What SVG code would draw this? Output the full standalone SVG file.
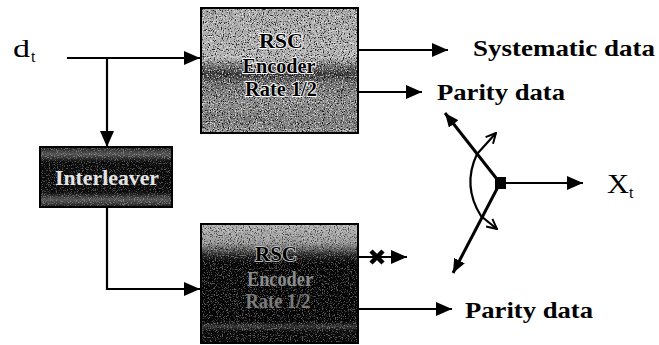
<svg xmlns="http://www.w3.org/2000/svg" width="659" height="345" viewBox="0 0 659 345">
  <style>
    .wire { fill: none; stroke: #000; stroke-width: 2.2; }
    .sw { fill: none; stroke: #000; stroke-width: 3; }
    .arc { fill: none; stroke: #000; stroke-width: 2.2; }
    .frame { fill: none; stroke: #000; stroke-width: 2; }
    .lbl { font-family: "Liberation Serif", "Times New Roman", serif; font-weight: bold; fill: #000; }
    .sym { font-family: "Liberation Serif", "Times New Roman", serif; fill: #000; }
    .boxtxt { font-family: "Liberation Serif", "Times New Roman", serif; font-weight: bold; font-size: 21px; text-anchor: middle; }
  </style>
  <defs>
    <marker id="head" viewBox="0 0 16 14" refX="16" refY="7" markerWidth="16" markerHeight="14" markerUnits="userSpaceOnUse" orient="auto">
      <path d="M0,0 L16,7 L0,14 z" fill="#000"/>
    </marker>
    <marker id="headS" viewBox="0 0 14 12" refX="14" refY="6" markerWidth="14" markerHeight="12" markerUnits="userSpaceOnUse" orient="auto-start-reverse">
      <path d="M0,0 L14,6 L0,12 z" fill="#000"/>
    </marker>
    <marker id="vee" viewBox="0 0 12 12" refX="11" refY="6" markerWidth="12" markerHeight="12" markerUnits="userSpaceOnUse" orient="auto-start-reverse">
      <path d="M1,1 L11,6 L1,11" fill="none" stroke="#000" stroke-width="2"/>
    </marker>
    <linearGradient id="gTop" x1="0" y1="0" x2="0" y2="1">
      <stop offset="0" stop-color="#a8a8a8"/>
      <stop offset="0.4" stop-color="#b4b4b4"/>
      <stop offset="0.47" stop-color="#6a6a6a"/>
      <stop offset="0.53" stop-color="#3a3a3a"/>
      <stop offset="0.6" stop-color="#707070"/>
      <stop offset="0.75" stop-color="#8c8c8c"/>
      <stop offset="0.93" stop-color="#7a7a7a"/>
      <stop offset="1" stop-color="#9a9a9a"/>
    </linearGradient>
    <linearGradient id="gBot" x1="0" y1="0" x2="0" y2="1">
      <stop offset="0" stop-color="#b8b8b8"/>
      <stop offset="0.16" stop-color="#9a9a9a"/>
      <stop offset="0.27" stop-color="#222"/>
      <stop offset="0.33" stop-color="#050505"/>
      <stop offset="0.82" stop-color="#050505"/>
      <stop offset="0.86" stop-color="#3a3a3a"/>
      <stop offset="0.9" stop-color="#0a0a0a"/>
      <stop offset="1" stop-color="#0a0a0a"/>
    </linearGradient>
    <linearGradient id="gInt" x1="0" y1="0" x2="0" y2="1">
      <stop offset="0" stop-color="#1a1a1a"/>
      <stop offset="0.12" stop-color="#555"/>
      <stop offset="0.25" stop-color="#0a0a0a"/>
      <stop offset="0.75" stop-color="#0a0a0a"/>
      <stop offset="0.88" stop-color="#555"/>
      <stop offset="1" stop-color="#1a1a1a"/>
    </linearGradient>
    <!-- halftone speckle: dark and light dots from thresholded noise -->
    <filter id="speckDark" x="0" y="0" width="100%" height="100%">
      <feTurbulence type="fractalNoise" baseFrequency="0.85" numOctaves="2" seed="3"/>
      <feColorMatrix type="matrix" values="0 0 0 0 0  0 0 0 0 0  0 0 0 0 0  6 0 0 0 -3.2"/>
    </filter>
    <filter id="speckLight" x="0" y="0" width="100%" height="100%">
      <feTurbulence type="fractalNoise" baseFrequency="0.85" numOctaves="2" seed="11"/>
      <feColorMatrix type="matrix" values="0 0 0 0 1  0 0 0 0 1  0 0 0 0 1  6 0 0 0 -3.2"/>
    </filter>
  </defs>

  <!-- connectors -->
  <g id="connectors">
    <!-- d_t feed to the first encoder and branch to the interleaver -->
    <line class="wire" x1="67" y1="58" x2="200" y2="58" marker-end="url(#head)"/>
    <line class="wire" x1="107" y1="58" x2="107" y2="147" marker-end="url(#head)"/>
    <!-- interleaver to the second encoder -->
    <polyline class="wire" points="107,207 107,289 200,289" marker-end="url(#head)"/>
    <!-- encoder outputs -->
    <line class="wire" x1="358" y1="50" x2="448" y2="50" marker-end="url(#head)"/>
    <line class="wire" x1="358" y1="92" x2="422" y2="92" marker-end="url(#head)"/>
    <line class="wire" x1="358" y1="257" x2="407" y2="257" marker-end="url(#head)"/>
    <line class="wire" x1="358" y1="309" x2="452" y2="309" marker-end="url(#head)"/>
    <!-- punctured output mark -->
    <path d="M371,251 L383,263 M383,251 L371,263" stroke="#000" stroke-width="4.5" fill="none"/>
  </g>

  <!-- puncturing switch -->
  <g id="switch">
    <line class="sw" x1="500" y1="183" x2="445" y2="113" marker-end="url(#headS)"/>
    <line class="sw" x1="500" y1="183" x2="453" y2="273" marker-end="url(#headS)"/>
    <line class="wire" x1="505" y1="183" x2="583" y2="183" marker-end="url(#head)"/>
    <path class="arc" d="M496,133 L477,154 Q462,186 481,216 L497,229" marker-start="url(#vee)" marker-end="url(#vee)"/>
    <rect x="495" y="177" width="11" height="12" fill="#000"/>
  </g>

  <!-- input symbol -->
  <g id="input">
    <text class="sym" x="13" y="57" font-size="25" textLength="17" lengthAdjust="spacingAndGlyphs">d</text>
    <text class="sym" x="31" y="62" font-size="16">t</text>
  </g>

  <!-- first RSC encoder -->
  <g id="encoder1">
    <rect x="201" y="8" width="157" height="125" fill="url(#gTop)"/>
    <rect x="201" y="8" width="157" height="125" filter="url(#speckDark)" opacity="0.8"/>
    <rect x="201" y="8" width="157" height="125" filter="url(#speckLight)" opacity="0.65"/>
    <rect class="frame" x="201" y="8" width="157" height="125"/>
    <g class="boxtxt" fill="#000" stroke="#fff" stroke-width="1.8" paint-order="stroke" stroke-linejoin="round">
      <text x="281" y="48" font-size="22px">RSC</text>
      <text x="279" y="73" textLength="73" lengthAdjust="spacingAndGlyphs">Encoder</text>
      <text x="281" y="96" textLength="72" lengthAdjust="spacingAndGlyphs">Rate 1/2</text>
    </g>
  </g>

  <!-- interleaver -->
  <g id="interleaver">
    <rect x="40" y="147" width="132" height="60" fill="url(#gInt)"/>
    <rect x="40" y="147" width="132" height="60" filter="url(#speckLight)" opacity="0.3"/>
    <rect class="frame" x="40" y="147" width="132" height="60"/>
    <text class="boxtxt" x="107" y="185" fill="#e4e4e4" textLength="104" lengthAdjust="spacingAndGlyphs">Interleaver</text>
  </g>

  <!-- second RSC encoder -->
  <g id="encoder2">
    <rect x="201" y="224" width="157" height="119" fill="url(#gBot)"/>
    <rect x="201" y="224" width="157" height="119" filter="url(#speckDark)" opacity="0.6"/>
    <rect x="201" y="224" width="157" height="119" filter="url(#speckLight)" opacity="0.35"/>
    <rect class="frame" x="201" y="224" width="157" height="119"/>
    <text class="boxtxt" x="276" y="261" fill="#000" stroke="#d0d0d0" stroke-width="1.6" paint-order="stroke">RSC</text>
    <text class="boxtxt" x="280" y="286" fill="#8c8c8c" textLength="66" lengthAdjust="spacingAndGlyphs">Encoder</text>
    <text class="boxtxt" x="278" y="308" fill="#7c7c7c" textLength="65" lengthAdjust="spacingAndGlyphs">Rate 1/2</text>
  </g>

  <!-- output labels -->
  <g id="labels">
    <text class="lbl" x="473" y="56" font-size="23" textLength="182" lengthAdjust="spacingAndGlyphs">Systematic data</text>
    <text class="lbl" x="437" y="100" font-size="23" textLength="128" lengthAdjust="spacingAndGlyphs">Parity data</text>
    <text class="lbl" x="465" y="318" font-size="23" textLength="128" lengthAdjust="spacingAndGlyphs">Parity data</text>
  </g>

  <!-- output symbol -->
  <g id="output">
    <text class="sym" x="607" y="193" font-size="27" textLength="22" lengthAdjust="spacingAndGlyphs">X</text>
    <text class="sym" x="629" y="198" font-size="16">t</text>
  </g>
</svg>
